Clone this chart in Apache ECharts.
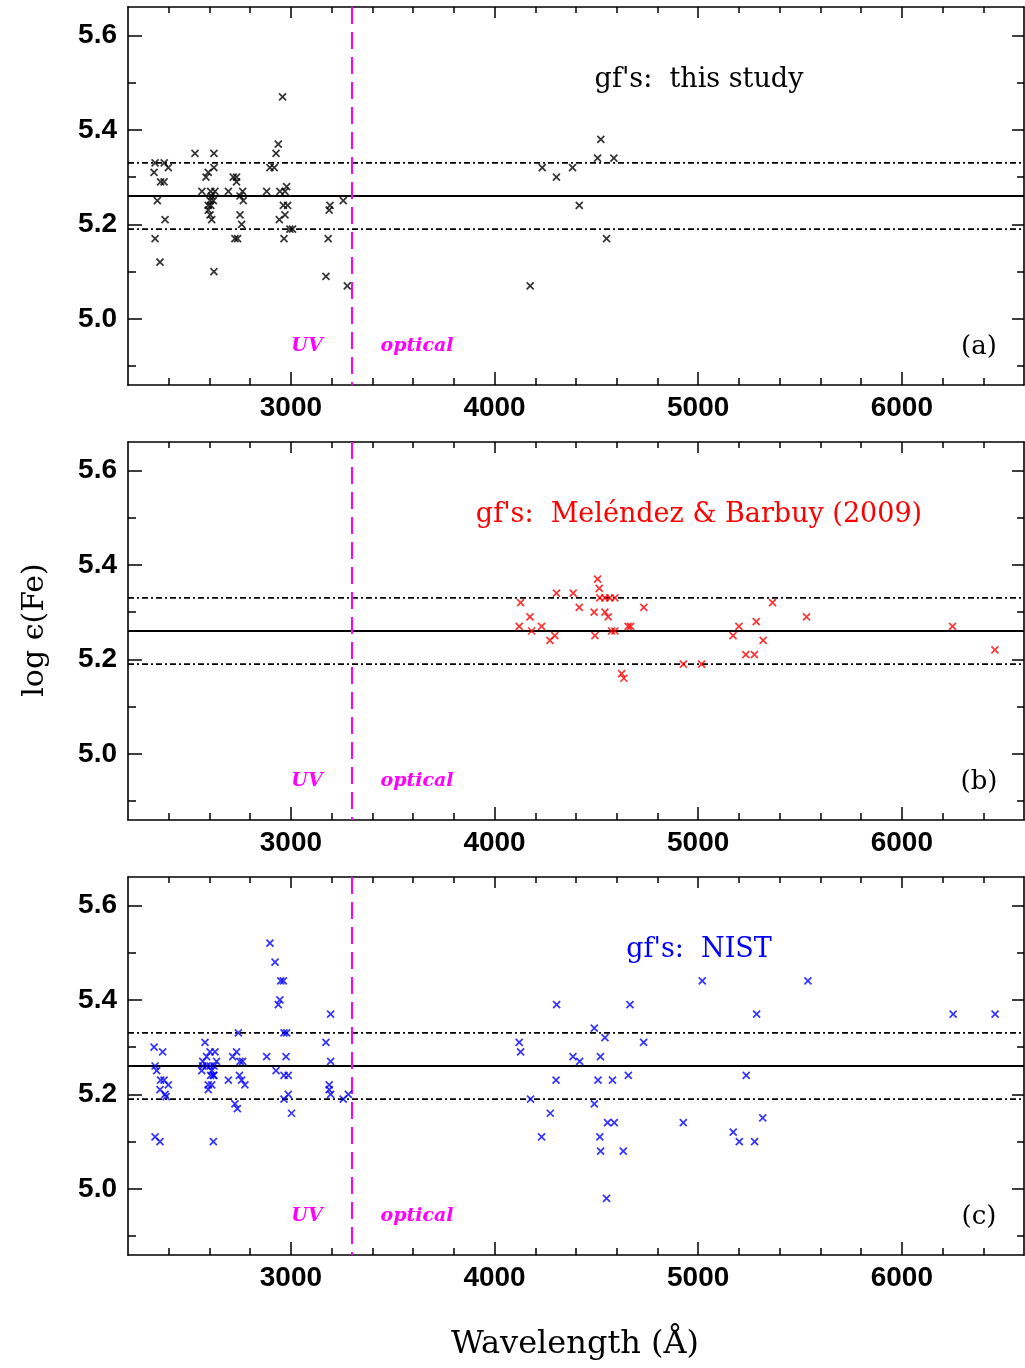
<!DOCTYPE html>
<html><head><meta charset="utf-8">
<script src="https://cdn.jsdelivr.net/npm/echarts@6/dist/echarts.min.js"></script>
<style>html,body{margin:0;padding:0;background:#fff}#c{width:1025px;height:1368px}</style>
</head><body><div id="c"></div>
<script>
// ---- axis ranges & ticks ----
const xMin = 2200, xMax = 6600, yMin = 4.86, yMax = 5.66;
const xMajorTicks = [3000, 4000, 5000, 6000];
const xMinorTicks = [2400, 2600, 2800, 3200, 3400, 3600, 3800, 4200, 4400, 4600, 4800, 5200, 5400, 5600, 5800, 6200, 6400];
const yMajorTicks = [5.0, 5.2, 5.4, 5.6];
const yMinorTicks = [4.9, 5.1, 5.3, 5.5];
// ---- reference values ----
const meanAbund = 5.26, sigmaHigh = 5.33, sigmaLow = 5.19, uvOpticalBoundary = 3300;
// ---- data: [wavelength (A), log eps(Fe)] ----
const thisStudy = [
 [2333,5.33],[2328,5.31],[2378,5.33],[2398,5.32],[2360,5.29],[2377,5.29],[2344,5.25],[2382,5.21],[2333,5.17],[2357,5.12],
 [2529,5.35],[2622,5.35],[2622,5.32],[2583,5.30],[2594,5.31],[2563,5.27],[2606,5.27],[2627,5.27],[2611,5.26],[2603,5.25],
 [2619,5.25],[2594,5.24],[2607,5.24],[2594,5.23],[2603,5.22],[2611,5.21],[2622,5.10],[2693,5.27],[2717,5.30],[2733,5.30],
 [2733,5.29],[2763,5.27],[2750,5.26],[2766,5.25],[2750,5.22],[2758,5.20],[2725,5.17],[2738,5.17],[2881,5.27],[2897,5.32],
 [2918,5.32],[2927,5.35],[2938,5.37],[2959,5.47],[2946,5.27],[2979,5.28],[2971,5.27],[2963,5.24],[2984,5.24],[2971,5.22],
 [2943,5.21],[2995,5.19],[3008,5.19],[2966,5.17],[3192,5.24],[3188,5.23],[3183,5.17],[3172,5.09],[3257,5.25],[3277,5.07],
 [4175,5.07],[4234,5.32],[4304,5.30],[4383,5.32],[4416,5.24],[4506,5.34],[4522,5.38],[4550,5.17],[4586,5.34]
];
const melendezBarbuy = [
 [4121,5.27],[4128,5.32],[4174,5.29],[4182,5.26],[4231,5.27],[4272,5.24],[4296,5.25],[4304,5.34],[4386,5.34],[4416,5.31],
 [4489,5.30],[4493,5.25],[4506,5.37],[4514,5.35],[4517,5.33],[4542,5.33],[4566,5.33],[4591,5.33],[4542,5.30],[4558,5.29],
 [4574,5.26],[4591,5.26],[4624,5.17],[4635,5.16],[4656,5.27],[4668,5.27],[4733,5.31],[4927,5.19],[5017,5.19],[5171,5.25],
 [5200,5.27],[5234,5.21],[5276,5.21],[5285,5.28],[5319,5.24],[5365,5.32],[5532,5.29],[6249,5.27],[6457,5.22]
];
const nist = [
 [2328,5.30],[2370,5.29],[2333,5.26],[2341,5.25],[2360,5.23],[2377,5.23],[2398,5.22],[2357,5.21],[2382,5.20],[2387,5.195],
 [2333,5.11],[2357,5.10],[2578,5.31],[2567,5.27],[2586,5.28],[2603,5.29],[2627,5.29],[2567,5.26],[2586,5.26],[2603,5.26],
 [2622,5.26],[2635,5.27],[2562,5.25],[2611,5.25],[2619,5.24],[2606,5.24],[2622,5.24],[2594,5.22],[2611,5.22],[2594,5.21],
 [2619,5.10],[2693,5.23],[2714,5.28],[2733,5.29],[2742,5.33],[2750,5.27],[2763,5.27],[2747,5.24],[2758,5.23],[2774,5.22],
 [2725,5.18],[2737,5.17],[2881,5.28],[2897,5.52],[2922,5.48],[2950,5.44],[2963,5.44],[2946,5.40],[2938,5.39],[2966,5.33],
 [2979,5.33],[2976,5.28],[2927,5.25],[2966,5.24],[2987,5.24],[2987,5.20],[2966,5.19],[3003,5.16],[3195,5.37],[3172,5.31],
 [3195,5.27],[3188,5.22],[3188,5.21],[3195,5.20],[3257,5.19],[3282,5.20],
 [4121,5.31],[4128,5.29],[4177,5.19],[4231,5.11],[4274,5.16],[4302,5.23],[4305,5.39],[4385,5.28],[4418,5.27],[4490,5.34],
 [4490,5.18],[4508,5.23],[4520,5.28],[4517,5.11],[4521,5.08],[4542,5.32],[4550,4.98],[4555,5.14],[4588,5.14],[4579,5.23],
 [4632,5.08],[4657,5.24],[4665,5.39],[4732,5.31],[4927,5.14],[5020,5.44],[5172,5.12],[5202,5.10],[5236,5.24],[5277,5.10],
 [5287,5.37],[5317,5.15],[5539,5.44],[6252,5.37],[6458,5.37]
];
const panelNames = ["gf's:  this study", "gf's:  Meléndez & Barbuy (2009)", "gf's:  NIST"];
const panelTags = ['(a)', '(b)', '(c)'];
const panelColors = ['#000000', '#ff0000', '#0000ff'];
const datasets = [thisStudy, melendezBarbuy, nist];

// ---- layout ----
const gridLeft = 128, gridWidth = 896, gridHeight = 378;
const gridTops = [7, 442, 877];
const crossPath = 'path://M0 0L10 10M10 0L0 10';
const tickFont = {color:'#000', fontFamily:'"Liberation Sans", Arial, sans-serif', fontSize:28, fontWeight:'bold'};

function mkX(g, pos, vals, len, line, label) {
  return {type:'value', gridIndex:g, position:pos, min:xMin, max:xMax,
    axisLine:{show:line, onZero:false, lineStyle:{color:'#000', width:1.6}},
    axisTick:{show:true, inside:true, length:len, customValues:vals, lineStyle:{color:'#000', width:1.5}},
    axisLabel:Object.assign({show:label, customValues:vals, margin:9, formatter:v => String(Math.round(v))}, tickFont),
    splitLine:{show:false}};
}
function mkY(g, pos, vals, len, line, label) {
  return {type:'value', gridIndex:g, position:pos, min:yMin, max:yMax,
    axisLine:{show:line, onZero:false, lineStyle:{color:'#000', width:1.6}},
    axisTick:{show:true, inside:true, length:len, customValues:vals, lineStyle:{color:'#000', width:1.5}},
    axisLabel:Object.assign({show:label, customValues:vals, margin:11, formatter:v => v.toFixed(1)}, tickFont),
    splitLine:{show:false}};
}

const grids = [], xAxes = [], yAxes = [], series = [], graphic = [];
gridTops.forEach((t, i) => {
  grids.push({left:gridLeft, top:t, width:gridWidth, height:gridHeight});
  grids.push({left:gridLeft, top:t, width:gridWidth, height:gridHeight});
  const gMaj = 2*i, gMin = 2*i+1;
  const xi = xAxes.length, yi = yAxes.length;
  xAxes.push(mkX(gMaj, 'bottom', xMajorTicks, 13, true, true));
  xAxes.push(mkX(gMaj, 'top', xMajorTicks, 11, true, false));
  xAxes.push(mkX(gMin, 'bottom', xMinorTicks, 7, false, false));
  xAxes.push(mkX(gMin, 'top', xMinorTicks, 6, false, false));
  yAxes.push(mkY(gMaj, 'left', yMajorTicks, 14, true, true));
  yAxes.push(mkY(gMaj, 'right', yMajorTicks, 12, true, false));
  yAxes.push(mkY(gMin, 'left', yMinorTicks, 8, false, false));
  yAxes.push(mkY(gMin, 'right', yMinorTicks, 7, false, false));

  series.push({type:'line', xAxisIndex:xi, yAxisIndex:yi, data:[[xMin, meanAbund],[xMax, meanAbund]],
    symbol:'none', silent:true, lineStyle:{color:'#000', width:2}, z:2});
  series.push({type:'line', xAxisIndex:xi, yAxisIndex:yi, data:[[xMin, sigmaHigh],[xMax, sigmaHigh]],
    symbol:'none', silent:true, lineStyle:{color:'#000', width:1.8, type:[6,3,2,3]}, z:2});
  series.push({type:'line', xAxisIndex:xi, yAxisIndex:yi, data:[[xMin, sigmaLow],[xMax, sigmaLow]],
    symbol:'none', silent:true, lineStyle:{color:'#000', width:1.8, type:[6,3,2,3]}, z:2});
  series.push({type:'line', xAxisIndex:xi, yAxisIndex:yi, data:[[uvOpticalBoundary, yMax],[uvOpticalBoundary, yMin]],
    symbol:'none', silent:true, lineStyle:{color:'#ff00ff', width:2, type:[17,8]}, z:3});
  series.push({type:'scatter', xAxisIndex:xi, yAxisIndex:yi, data:datasets[i], symbol:crossPath, symbolSize:7,
    silent:true, itemStyle:{color:'none', borderColor:panelColors[i], borderWidth:1.7}, z:4});

  const serif = '"DejaVu Serif", serif';
  graphic.push({type:'text', x:699, y:t + 73, silent:true,
    style:{text:panelNames[i], font:'27px ' + serif, fill:panelColors[i], align:'center', verticalAlign:'middle'}});
  graphic.push({type:'text', x:979, y:t + 340, silent:true,
    style:{text:panelTags[i], font:'26px ' + serif, fill:'#000', align:'center', verticalAlign:'middle'}});
  graphic.push({type:'text', x:307, y:t + 339, silent:true,
    style:{text:'UV', font:'italic bold 19px ' + serif, fill:'#ff00ff', align:'center', verticalAlign:'middle'}});
  graphic.push({type:'text', x:417, y:t + 339, silent:true,
    style:{text:'optical', font:'italic bold 19px ' + serif, fill:'#ff00ff', align:'center', verticalAlign:'middle'}});
});
graphic.push({type:'text', x:35, y:630, rotation:Math.PI/2, silent:true,
  style:{text:'log ϵ(Fe)', font:'30px "DejaVu Serif", serif', fill:'#000', align:'center', verticalAlign:'middle'}});
graphic.push({type:'text', x:575, y:1345, silent:true,
  style:{text:'Wavelength (Å)', font:'32px "DejaVu Serif", serif', fill:'#000', align:'center', verticalAlign:'middle'}});

const chart = echarts.init(document.getElementById('c'), null, {renderer:'canvas'});
chart.setOption({
  animation:false, backgroundColor:'#fff',
  grid:grids, xAxis:xAxes, yAxis:yAxes, series:series, graphic:graphic
});
</script></body></html>
